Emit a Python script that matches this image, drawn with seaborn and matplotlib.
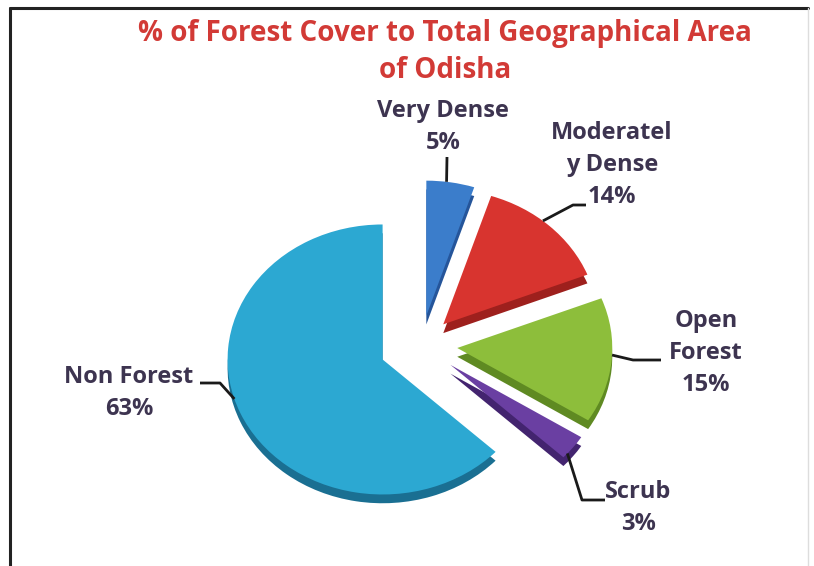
import matplotlib
matplotlib.use("Agg")
import numpy as np
import matplotlib.pyplot as plt
import seaborn as sns
from matplotlib.lines import Line2D

# ---- data ----
categories = ["Very Dense", "Moderately Dense", "Open Forest", "Scrub", "Non Forest"]
label_texts = ["Very Dense", "Moderatel\ny Dense", "Open\nForest", "Scrub", "Non Forest"]
values = [5, 14, 15, 3, 63]
title_lines = ["% of Forest Cover to Total Geographical Area", "of Odisha"]

# ---- style ----
explode = [0.22, 0.21, 0.235, 0.24, 0.27]
colors = ["#3B7DCB", "#D8342F", "#8DBE3B", "#6A3FA2", "#2CA8D2"]
side_colors = ["#25559A", "#9E201D", "#5F8A22", "#43246F", "#1A6F92"]
text_color = "#3D3450"
title_color = "#D23A36"

sns.set_theme(style="white")
plt.rcParams['font.family'] = ['Open Sans', 'DejaVu Sans']

W, H = 814, 566
fig = plt.figure(figsize=(W / 100, H / 100), dpi=100)
fig.patch.set_facecolor("white")

CX, CY, RX, RY = 421, 345, 155, 135
XL = (-2.6, 2.4)
YL = (-1.65, 1.85)
left_px = CX + XL[0] * RX
width_px = (XL[1] - XL[0]) * RX
bottom_px = CY - YL[0] * RY   # from top
top_px = CY - YL[1] * RY
ax = fig.add_axes([left_px / W, (H - bottom_px) / H, width_px / W, (bottom_px - top_px) / H])

# 3D-ish side (thickness) drawn first, offset downward
ax.pie(values, explode=explode, colors=side_colors, startangle=90, counterclock=False,
       center=(0, -0.065), wedgeprops=dict(linewidth=0))
wedges, _ = ax.pie(values, explode=explode, colors=colors, startangle=90, counterclock=False,
                   wedgeprops=dict(linewidth=0))
ax.set_aspect('auto')
ax.set_xlim(*XL)
ax.set_ylim(*YL)
ax.axis('off')


def P(px, py):
    return ((px - CX) / RX, (CY - py) / RY)


def arc_point(w, ang):
    cx, cy = w.center
    return (cx + w.r * np.cos(np.radians(ang)), cy + w.r * np.sin(np.radians(ang)))


fs = 17
label_pos = [(443, 127), (612, 165), (706, 353), (638, 508), (129, 393)]
attach_ang = [82.5, 50, -3, -41, 197]
leader_px = [[(447, 157)],
             [(573, 205), (586, 205)],
             [(633, 360), (661, 360)],
             [(582, 500), (605, 500)],
             [(220, 383), (200, 383)]]

for name, v, (px, py), w, ang, pts in zip(label_texts, values, label_pos, wedges,
                                          attach_ang, leader_px):
    x, y = P(px, py)
    ax.text(x, y, f"{name}\n{v}%", ha="center", va="center", fontsize=fs,
            fontweight="bold", color=text_color, linespacing=1.42, zorder=6)
    start = arc_point(w, ang)
    line = [start] + [P(*p) for p in pts]
    xs, ys = zip(*line)
    ax.plot(xs, ys, color="#1a1a1a", lw=2, solid_capstyle="butt", zorder=5)

# title
fig.text(445 / W, 1 - 33 / H, title_lines[0], ha="center", va="center", fontsize=20,
         fontweight="bold", color=title_color)
fig.text(445 / W, 1 - 70 / H, title_lines[1], ha="center", va="center", fontsize=20,
         fontweight="bold", color=title_color)

# frame
fig.add_artist(Line2D([10 / W, 10 / W], [0, 1 - 8 / H], color="#222222", lw=2.2))
fig.add_artist(Line2D([10 / W, 808 / W], [1 - 8 / H, 1 - 8 / H], color="#222222", lw=2.2))
fig.add_artist(Line2D([808 / W, 808 / W], [0, 1 - 8 / H], color="#dddddd", lw=1))

fig.savefig("out.png", dpi=100)
